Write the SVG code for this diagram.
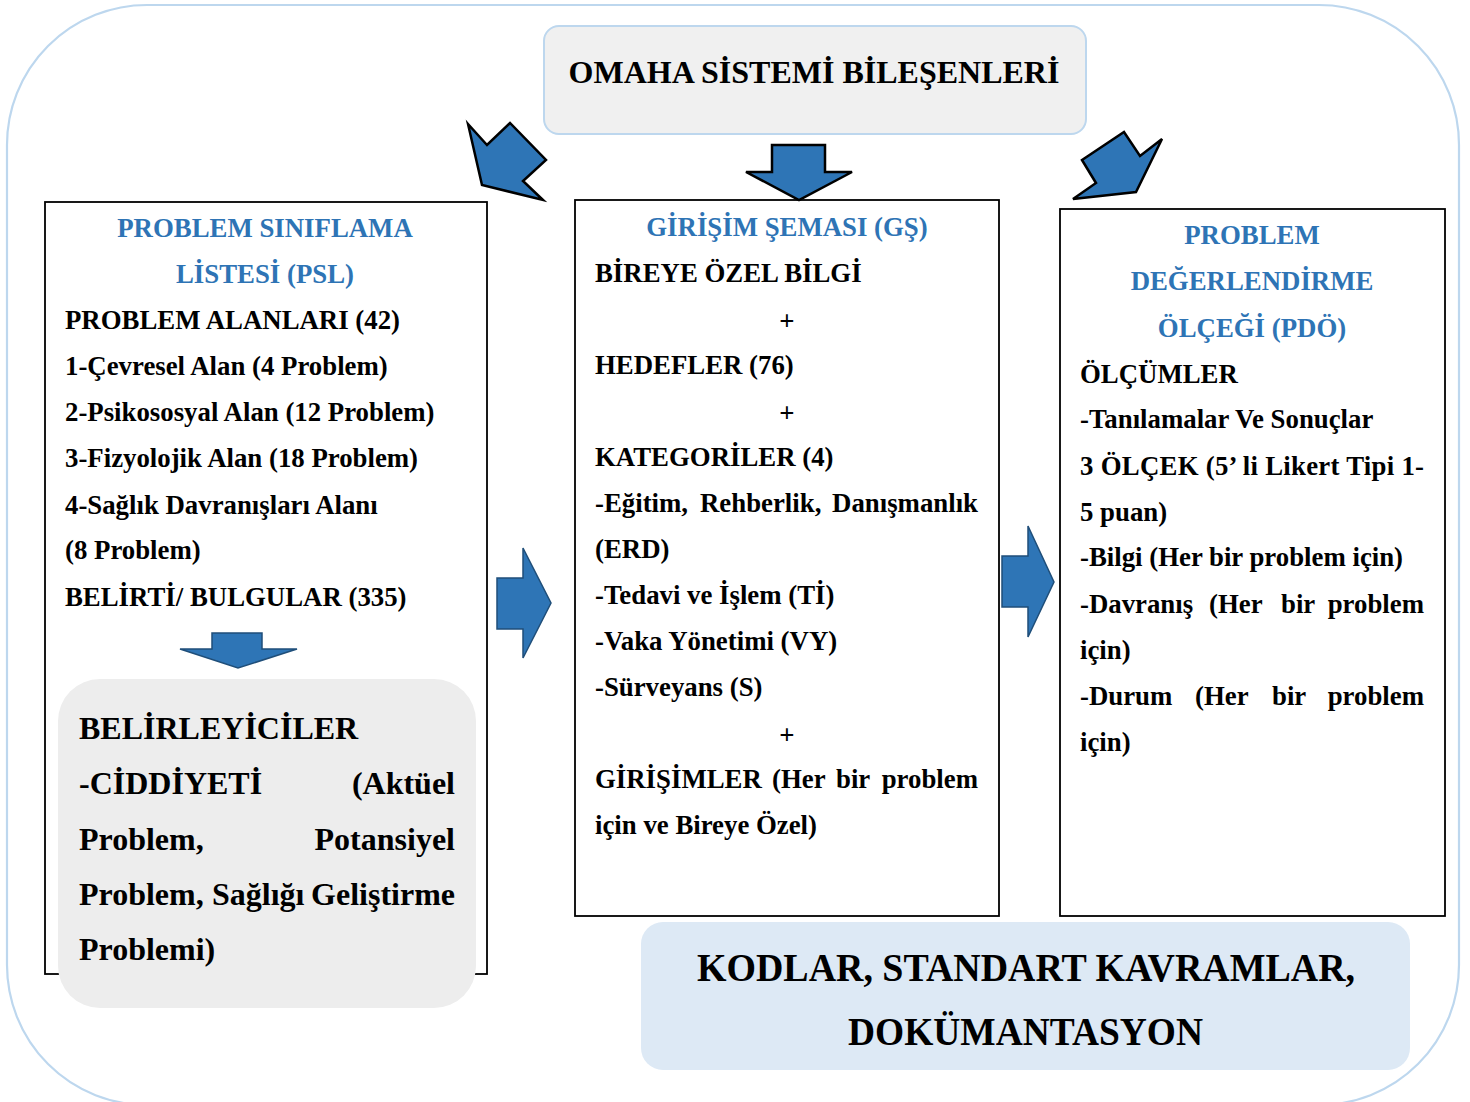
<svg xmlns="http://www.w3.org/2000/svg" width="1470" height="1102" viewBox="0 0 1470 1102">
<style>
.t{font-family:"Liberation Serif","Times New Roman",serif;font-weight:bold;fill:#000}
.b{font-size:26.8px}
.h{font-size:26.8px;fill:#2e74b5;text-anchor:middle}
.g{font-size:32px}
.c{text-anchor:middle}
.e{text-anchor:end}
.box{fill:#fff;stroke:#000;stroke-width:1.8}
.arrK{fill:#2e75b6;stroke:#000;stroke-width:2.5;stroke-linejoin:miter}
.arrB{fill:#2e75b6;stroke:#1f4e79;stroke-width:1.5}
</style>
<rect x="0" y="0" width="1470" height="1102" fill="#fff"/>
<rect id="frame" x="7" y="5" width="1452" height="1100" rx="140" ry="140" fill="none" stroke="#bdd7ee" stroke-width="2.2"/>

<g id="title">
<rect x="544" y="26" width="542" height="108" rx="15" fill="#f0f0f0" stroke="#bdd7ee" stroke-width="2"/>
<text class="t c" x="814" y="83" font-size="32">OMAHA SİSTEMİ BİLEŞENLERİ</text>
</g>

<g id="psl">
<rect class="box" x="45" y="202" width="442" height="772"/>
<text class="t h" x="265" y="237">PROBLEM SINIFLAMA</text>
<text class="t h" x="265" y="283">LİSTESİ (PSL)</text>
<text class="t b" x="65" y="329">PROBLEM ALANLARI (42)</text>
<text class="t b" x="65" y="375">1-Çevresel Alan (4 Problem)</text>
<text class="t b" x="65" y="421">2-Psikososyal Alan (12 Problem)</text>
<text class="t b" x="65" y="467">3-Fizyolojik Alan (18 Problem)</text>
<text class="t b" x="65" y="514">4-Sağlık Davranışları Alanı</text>
<text class="t b" x="65" y="559">(8 Problem)</text>
<text class="t b" x="65" y="606">BELİRTİ/ BULGULAR (335)</text>
</g>

<g id="belirleyiciler">
<rect x="58" y="679" width="418" height="329" rx="42" ry="42" fill="#ededed"/>
<text class="t g" x="79" y="739">BELİRLEYİCİLER</text>
<text class="t g" x="79" y="794">-CİDDİYETİ</text>
<text class="t g e" x="455" y="794">(Aktüel</text>
<text class="t g" x="79" y="850">Problem,</text>
<text class="t g e" x="455" y="850">Potansiyel</text>
<text class="t g" x="79" y="905">Problem,</text>
<text class="t g" x="212" y="905">Sağlığı</text>
<text class="t g e" x="455" y="905">Geliştirme</text>
<text class="t g" x="79" y="960">Problemi)</text>
</g>

<g id="gs">
<rect class="box" x="575" y="200" width="424" height="716"/>
<text class="t h" x="787" y="236">GİRİŞİM ŞEMASI (GŞ)</text>
<text class="t b" x="595" y="282">BİREYE ÖZEL BİLGİ</text>
<text class="t b c" x="787" y="330">+</text>
<text class="t b" x="595" y="374">HEDEFLER (76)</text>
<text class="t b c" x="787" y="422">+</text>
<text class="t b" x="595" y="466">KATEGORİLER (4)</text>
<text class="t b" x="595" y="512">-Eğitim,</text>
<text class="t b" x="700" y="512">Rehberlik,</text>
<text class="t b e" x="978" y="512">Danışmanlık</text>
<text class="t b" x="595" y="558">(ERD)</text>
<text class="t b" x="595" y="604">-Tedavi ve İşlem (Tİ)</text>
<text class="t b" x="595" y="650">-Vaka Yönetimi (VY)</text>
<text class="t b" x="595" y="696">-Sürveyans (S)</text>
<text class="t b c" x="787" y="744">+</text>
<text class="t b" x="595" y="788">GİRİŞİMLER</text>
<text class="t b" x="772" y="788">(Her</text>
<text class="t b" x="836" y="788">bir</text>
<text class="t b e" x="978" y="788">problem</text>
<text class="t b" x="595" y="834">için ve Bireye Özel)</text>
</g>

<g id="pdo">
<rect class="box" x="1060" y="209" width="385" height="707"/>
<text class="t h" x="1252" y="244">PROBLEM</text>
<text class="t h" x="1252" y="290">DEĞERLENDİRME</text>
<text class="t h" x="1252" y="337">ÖLÇEĞİ (PDÖ)</text>
<text class="t b" x="1080" y="383">ÖLÇÜMLER</text>
<text class="t b" x="1080" y="428">-Tanılamalar Ve Sonuçlar</text>
<text class="t b" x="1080" y="475" textLength="344" lengthAdjust="spacing">3 ÖLÇEK (5’ li Likert Tipi 1-</text>
<text class="t b" x="1080" y="521">5 puan)</text>
<text class="t b" x="1080" y="566">-Bilgi (Her bir problem için)</text>
<text class="t b" x="1080" y="613">-Davranış</text>
<text class="t b" x="1209" y="613">(Her</text>
<text class="t b" x="1281" y="613">bir</text>
<text class="t b e" x="1424" y="613">problem</text>
<text class="t b" x="1080" y="659">için)</text>
<text class="t b" x="1080" y="705">-Durum</text>
<text class="t b" x="1195" y="705">(Her</text>
<text class="t b" x="1272" y="705">bir</text>
<text class="t b e" x="1424" y="705">problem</text>
<text class="t b" x="1080" y="751">için)</text>
</g>

<g id="kodlar">
<rect x="641" y="922" width="769" height="148" rx="22" ry="22" fill="#dde9f5"/>
<text class="t" x="697" y="981" font-size="41" textLength="658" lengthAdjust="spacingAndGlyphs">KODLAR, STANDART KAVRAMLAR,</text>
<text class="t" x="848" y="1045" font-size="41" textLength="355" lengthAdjust="spacingAndGlyphs">DOKÜMANTASYON</text>
</g>

<g id="connectors">
<polygon class="arrK" points="468,124 487,145 510,123 546,160 523,181 543,200 482,185"/>
<polygon class="arrK" points="772,145 825,145 825,172 852,172 799,200 746,172 772,172"/>
<polygon class="arrK" points="1082,160 1124,132 1140,156 1162,139 1136,192 1073,199 1096,183"/>
<polygon class="arrB" points="497,578 523,578 523,548 551,603 523,658 523,629 497,629"/>
<polygon class="arrB" points="1002,556 1028,556 1028,526 1054,582 1028,637 1028,607 1002,607"/>
<polygon class="arrB" points="212,633 262,633 262,649 297,649 238,668 180,649 212,649"/>
</g>
</svg>
